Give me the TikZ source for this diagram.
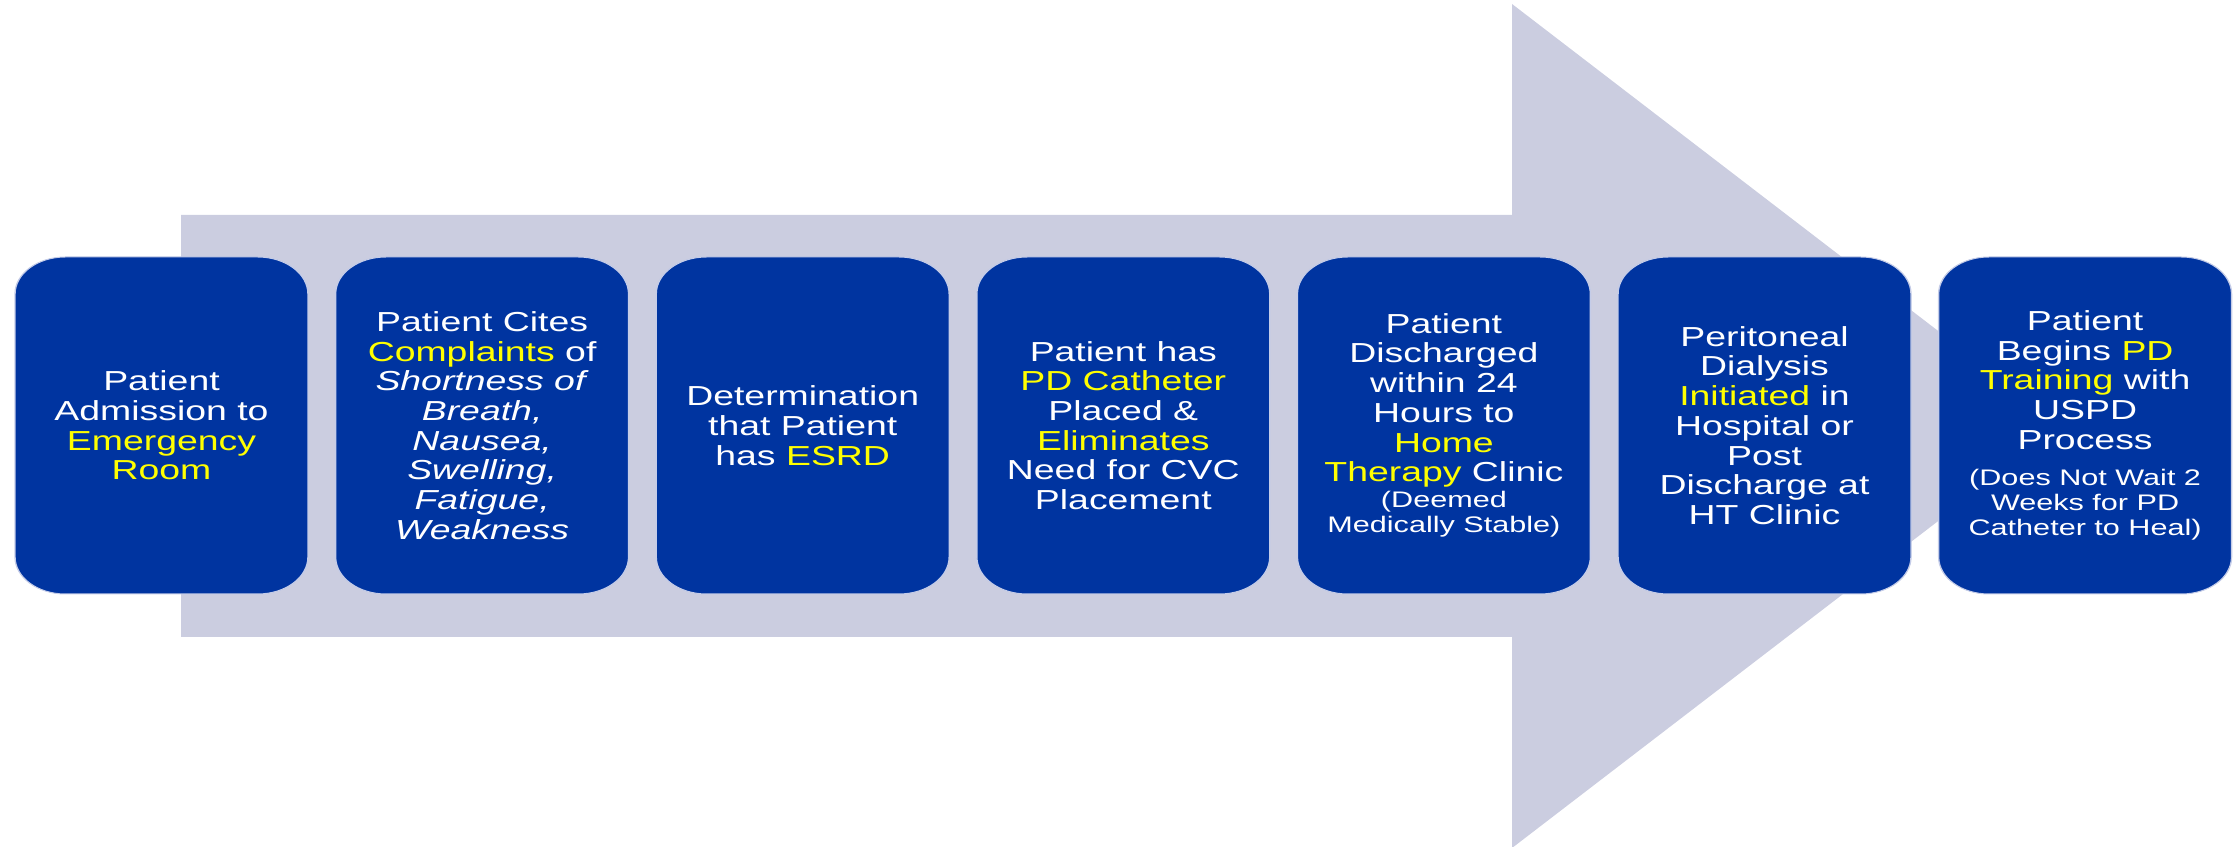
\documentclass[tikz,border=0pt]{standalone}
\usepackage{fontspec}
\setmainfont{Liberation Sans}

\definecolor{boxblue}{RGB}{0,52,160}
\definecolor{arrowgray}{RGB}{203,205,224}
\definecolor{hilite}{RGB}{255,255,0}
\definecolor{boxedge}{RGB}{196,204,232}

% highlighted keyword and the smaller note text
\newcommand{\yel}[1]{\textcolor{hilite}{#1}}
\newcommand{\notefont}{\fontsize{22.5}{25}\selectfont}

\begin{document}
\begin{tikzpicture}[x=1pt,y=1pt,
  stepbox/.style={rectangle, rounded corners=37pt, fill=boxblue, draw=boxedge,
    line width=1pt, minimum width=215.4pt, minimum height=337pt, inner sep=0pt,
    text=white, align=center, font=\fontsize{27.5}{29.7}\selectfont}]
\useasboundingbox (0,0) rectangle (2237,846);

% large process arrow in the background
\fill[arrowgray] (181,631) -- (1512,631) -- (1512,842) -- (2062,420)
  -- (1512,-2) -- (1512,209) -- (181,209) -- cycle;

% the seven steps (wide, horizontally stretched cards)
\begin{scope}[transform canvas={xscale=1.36}]
\node[stepbox] (b1) at (118.75,420.5)
  {Patient\\Admission to\\\yel{Emergency}\\\yel{Room}};
\node[stepbox] (b2) at (354.49,420.5)
  {Patient Cites\\\yel{Complaints} of\\\textit{Shortness of}\\\textit{Breath,}\\
   \textit{Nausea,}\\\textit{Swelling,}\\\textit{Fatigue,}\\\textit{Weakness}};
\node[stepbox] (b3) at (590.22,420.5)
  {Determination\\that Patient\\has \yel{ESRD}};
\node[stepbox] (b4) at (825.96,420.5)
  {Patient has\\\yel{PD Catheter}\\Placed \&\\\yel{Eliminates}\\Need for CVC\\Placement};
\node[stepbox] (b5) at (1061.69,420.5)
  {Patient\\Discharged\\within 24\\Hours to\\\yel{Home}\\\yel{Therapy} Clinic\\[-3.5pt]
   {\notefont (Deemed}\\[-4.7pt]{\notefont Medically Stable)}};
\node[stepbox] (b6) at (1297.43,420.5)
  {Peritoneal\\Dialysis\\\yel{Initiated} in\\Hospital or\\Post\\Discharge at\\HT Clinic};
\node[stepbox] (b7) at (1533.16,420.5)
  {Patient\\Begins \yel{PD}\\\yel{Training} with\\USPD\\Process\\[7pt]
   {\notefont (Does Not Wait 2}\\[-4.7pt]{\notefont Weeks for PD}\\[-4.7pt]
   {\notefont Catheter to Heal)}};
\end{scope}
\end{tikzpicture}
\end{document}
